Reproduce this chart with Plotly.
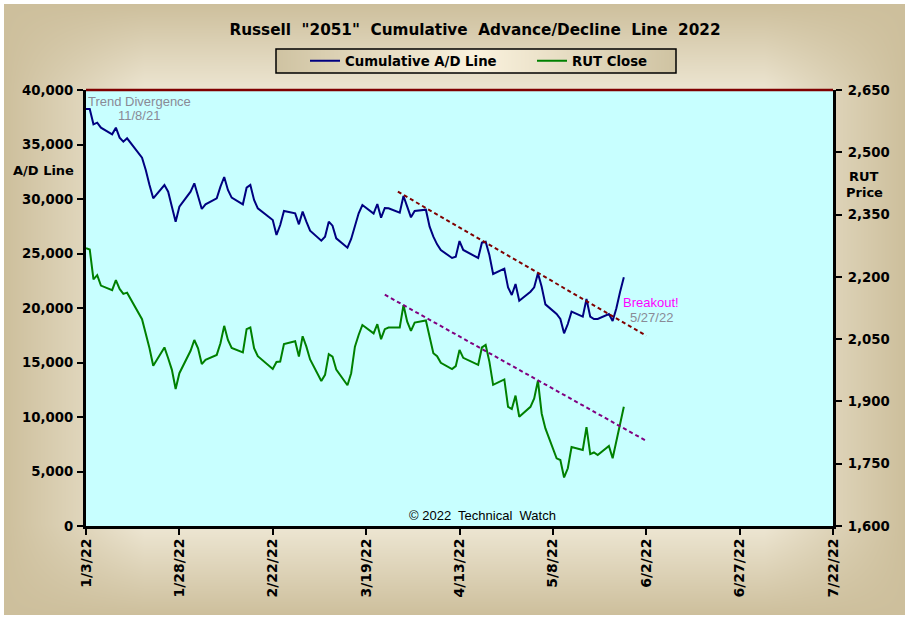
import base64
import struct
import zlib

import numpy as np
import plotly.graph_objects as go

W, H = 910, 621

day_offsets = [0, 1, 2, 3, 4, 7, 8, 9, 10, 11, 15, 16, 17, 18, 21, 22, 23, 24, 25, 28, 29, 30, 31, 32,
               35, 36, 37, 38, 39, 42, 43, 44, 45, 46, 50, 51, 52, 53, 56, 57, 58, 59, 60,
               63, 64, 65, 66, 67, 70, 71, 72, 73, 74, 77, 78, 79, 80, 81, 84, 85, 86, 87, 88,
               91, 92, 93, 94, 95, 98, 99, 100, 101, 105, 106, 107, 108, 109,
               112, 113, 114, 115, 116, 119, 120, 121, 122, 123, 126, 127, 128, 129, 130,
               133, 134, 135, 136, 137, 140, 141, 142, 143, 144]

ad_line = [38257, 38257, 36851, 37003, 36545, 35933, 36545, 35627, 35260, 35566,
           33792, 32661, 31285, 30062, 31285, 30673, 29297, 27921, 29297, 30673, 31438, 30367, 29083, 29511,
           30062, 31132, 32019, 30826, 30123, 29511, 31040, 31285, 29909, 29144, 28074, 26698, 27615, 28900,
           28686, 27676, 28839, 27921, 27095, 26178, 26545, 27921, 27554, 26392, 25536, 26331, 27615, 28686, 29450,
           28655, 29542, 28287, 29174, 29143, 28746, 30275, 29296, 28318, 28899,
           29021, 27461, 26544, 25841, 25321, 24587, 24709, 26146, 25321, 24587, 25994, 26085, 24862, 23119,
           23608, 21896, 21193, 22202, 20673, 21498, 21896, 23180, 21957, 20336, 19449, 18991, 17676, 18532, 19664,
           19205, 20825, 19205, 18991, 18991, 19449, 18807, 19969, 21498, 22813]

rut_close = [2269, 2266, 2194, 2204, 2179, 2168, 2192, 2171, 2159, 2162,
             2098, 2064, 2028, 1986, 2030, 2004, 1976, 1930, 1968, 2022, 2048, 2028, 1990, 2000,
             2012, 2040, 2082, 2048, 2029, 2018, 2074, 2078, 2028, 2009, 1978, 1995, 1996, 2038,
             2045, 2008, 2057, 2032, 2001, 1949, 1964, 2014, 2008, 1977, 1939, 1968, 2032, 2060, 2084,
             2064, 2086, 2050, 2074, 2078, 2078, 2132, 2092, 2070, 2090,
             2095, 2052, 2016, 2009, 1993, 1978, 1985, 2024, 2005, 1988, 2030, 2036, 1996, 1940,
             1953, 1887, 1882, 1914, 1863, 1887, 1907, 1950, 1871, 1835, 1763, 1759, 1717, 1739, 1790,
             1783, 1838, 1773, 1777, 1771, 1793, 1763, 1807, 1847, 1887]

ad_trend_x = ["2022-03-27 12:00", "2022-06-02"]
ad_trend_y = [30669, 17458]
rut_trend_x = ["2022-03-24", "2022-06-02"]
rut_trend_y = [2157, 1805]

x_tick_vals = ["2022-01-03", "2022-01-28", "2022-02-22", "2022-03-19", "2022-04-13",
               "2022-05-08", "2022-06-02", "2022-06-27", "2022-07-22"]
x_tick_text = ["1/3/22", "1/28/22", "2/22/22", "3/19/22", "4/13/22", "5/8/22", "6/2/22", "6/27/22", "7/22/22"]
left_ticks = [0, 5000, 10000, 15000, 20000, 25000, 30000, 35000, 40000]
right_ticks = [1600, 1750, 1900, 2050, 2200, 2350, 2500, 2650]

dates = np.datetime64("2022-01-03") + np.array(day_offsets).astype("timedelta64[D]")
dates = dates.astype(str)

# plot frame in page pixels
LEFT, RIGHT, TOP, BOTTOM = 86, 833, 90, 526
PW, PH = RIGHT - LEFT, BOTTOM - TOP


def png_uri(rgb):
    # small png writer, no PIL here
    h, w, _ = rgb.shape
    raw = b"".join(b"\x00" + rgb[i].tobytes() for i in range(h))

    def chunk(tag, data):
        return struct.pack(">I", len(data)) + tag + data + struct.pack(">I", zlib.crc32(tag + data))

    png = b"\x89PNG\r\n\x1a\n" + chunk(b"IHDR", struct.pack(">IIBBBBB", w, h, 8, 2, 0, 0, 0))
    png += chunk(b"IDAT", zlib.compress(raw)) + chunk(b"IEND", b"")
    return "data:image/png;base64," + base64.b64encode(png).decode()


def blend(t, edge, mid):
    edge, mid = np.array(edge, float), np.array(mid, float)
    return (edge + (mid - edge) * t[..., None]).round().astype(np.uint8)


# paper: dark at the edges, lighter toward the plot, slower on the left/right sides
yy, xx = np.mgrid[0:611, 0:901]
dx = np.clip(np.minimum(xx, 900 - xx) / 140, 0, 1)
dy = np.clip(np.minimum(yy, 610 - yy) / 90, 0, 1)
paper_img = blend(dx * dy, (205, 191, 156), (238, 231, 212))

# legend box: dark at both ends, lightest in the middle
u = np.abs(np.linspace(-1, 1, 400))[None, :].repeat(4, axis=0)
legend_img = blend(1 - u, (207, 195, 162), (250, 242, 222))


# "paper" refs are fractions of the plot area, so go through these
def plot_x(x):
    return (x - LEFT) / PW


def plot_y(y):
    return (BOTTOM - y) / PH


label_font = dict(family="DejaVu Sans", size=13.3, color="black", weight=700)
note_font = dict(family="Liberation Sans", size=13)

fig = go.Figure()
fig.add_trace(go.Scatter(x=dates, y=ad_line, name="Cumulative A/D Line", mode="lines",
                         line=dict(color="#000080", width=2)))
fig.add_trace(go.Scatter(x=dates, y=rut_close, name="RUT Close", mode="lines", yaxis="y2",
                         line=dict(color="#008000", width=2)))
fig.add_trace(go.Scatter(x=ad_trend_x, y=ad_trend_y, mode="lines", showlegend=False,
                         line=dict(color="#800000", width=2, dash="4px,3px")))
fig.add_trace(go.Scatter(x=rut_trend_x, y=rut_trend_y, mode="lines", yaxis="y2", showlegend=False,
                         line=dict(color="#800080", width=2, dash="4px,3px")))

notes = [
    ("Trend Divergence", 139, 102, "#8a8a96"),
    ("11/8/21", 139, 116, "#8a8a96"),
    ("Breakout!", 651, 302, "#ff00ff"),
    ("5/27/22", 651, 317, "#8a8a96"),
    ("© 2022  Technical  Watch", 483, 515, "black"),
]
annotations = [dict(text=t, x=plot_x(x), y=plot_y(y), xref="paper", yref="paper", showarrow=False,
                    xanchor="center", yanchor="middle", font=dict(note_font, color=c)) for t, x, y, c in notes]
for t, x, y in [("A/D Line", 43, 170), ("RUT", 864, 176), ("Price", 864, 192)]:
    annotations.append(dict(text=t, x=plot_x(x), y=plot_y(y), xref="paper", yref="paper", showarrow=False,
                            xanchor="center", yanchor="middle", font=dict(label_font, size=13)))

fig.update_layout(
    width=W, height=H,
    margin=dict(l=LEFT, r=W - RIGHT, t=TOP, b=H - BOTTOM),
    paper_bgcolor="white",
    title=dict(text='Russell  "2051"  Cumulative  Advance/Decline  Line  2022',
               x=475 / W, y=1 - 30 / H, xanchor="center", yanchor="middle",
               font=dict(family="DejaVu Sans", size=15.25, color="black", weight=700)),
    xaxis=dict(type="date", range=["2022-01-03", "2022-07-22"], tickvals=x_tick_vals, ticktext=x_tick_text,
               tickangle=-90, tickfont=dict(label_font, size=14), ticks="outside", ticklen=6, tickwidth=2,
               ticklabelstandoff=-2, tickcolor="black", showline=True, linecolor="black", linewidth=3,
               showgrid=False, zeroline=False),
    yaxis=dict(range=[0, 40000], tickvals=left_ticks, tickformat=",d", tickfont=label_font,
               ticks="outside", ticklen=6, tickwidth=2, tickcolor="black", ticklabelstandoff=1,
               showline=True, linecolor="black", linewidth=3, showgrid=False, zeroline=False),
    yaxis2=dict(range=[1600, 2650], tickvals=right_ticks, tickformat=",d", tickfont=label_font,
                overlaying="y", side="right", ticks="outside", ticklen=6, tickwidth=2, tickcolor="black",
                ticklabelstandoff=3, showline=True, linecolor="black", linewidth=3, showgrid=False, zeroline=False),
    legend=dict(orientation="h", x=plot_x(305), y=plot_y(61), xanchor="left", yanchor="middle",
                bgcolor="rgba(0,0,0,0)", font=dict(family="DejaVu Sans", size=13.3, color="black", weight=700),
                itemwidth=30, entrywidth=182, entrywidthmode="pixels", traceorder="normal"),
    images=[
        dict(source=png_uri(paper_img), xref="paper", yref="paper", x=plot_x(4), y=plot_y(4),
             sizex=901 / PW, sizey=611 / PH, sizing="stretch", xanchor="left", yanchor="top", layer="below"),
        dict(source=png_uri(legend_img), xref="paper", yref="paper", x=plot_x(276), y=plot_y(49),
             sizex=400 / PW, sizey=24 / PH, sizing="stretch", xanchor="left", yanchor="top", layer="below"),
    ],
    shapes=[
        dict(type="rect", xref="paper", yref="paper", x0=0, x1=1, y0=0, y1=1,
             fillcolor="#c8ffff", line=dict(width=0), layer="below"),
        dict(type="rect", xref="paper", yref="paper", x0=plot_x(276), x1=plot_x(676), y0=plot_y(49), y1=plot_y(73),
             line=dict(color="black", width=1.5), layer="below"),
        dict(type="line", xref="paper", yref="paper", x0=0, x1=1, y0=1, y1=1, line=dict(color="#800000", width=2.5)),
    ],
    annotations=annotations,
)

fig.write_html("out.html", config=dict(displayModeBar=False),
               post_script="document.body.style.margin='0';document.documentElement.style.overflow='hidden';")
